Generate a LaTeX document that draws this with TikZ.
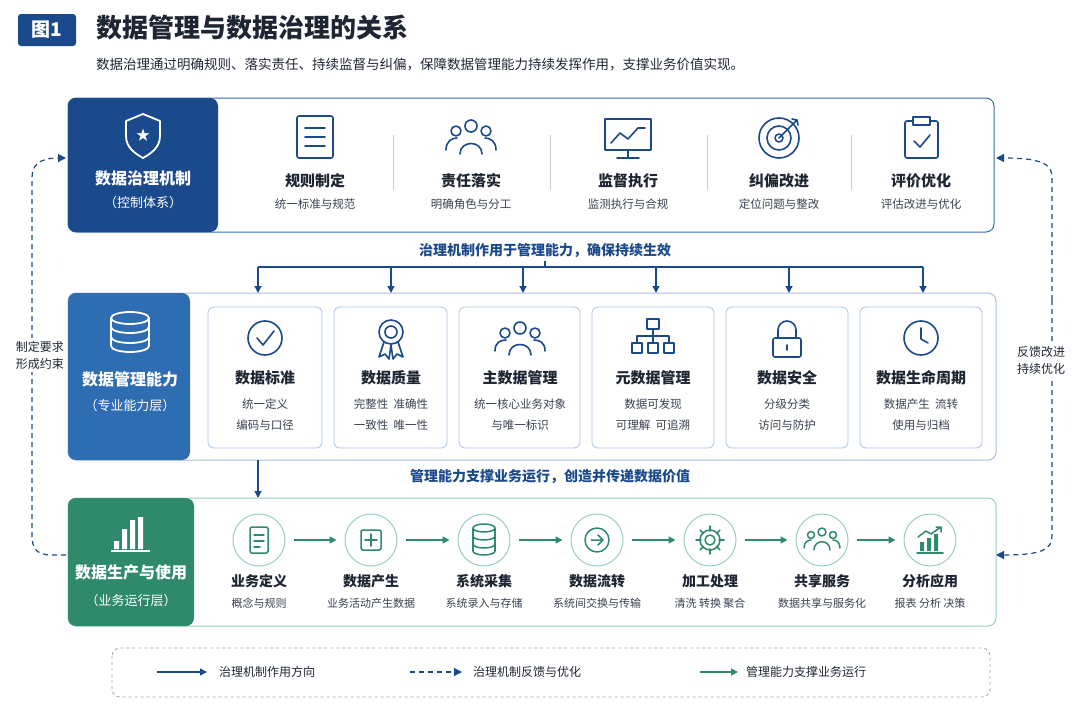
\documentclass[tikz,border=0pt]{standalone}
\usepackage{fontspec}
\setmainfont{Noto Sans CJK SC}
\usetikzlibrary{arrows.meta,calc}
\definecolor{dblue}{HTML}{1B4A8C}
\definecolor{mblue}{HTML}{2F6DB3}
\definecolor{gr}{HTML}{2E8A6B}
\definecolor{txt}{HTML}{1F2633}
\definecolor{sub}{HTML}{3A4250}
\definecolor{lb}{HTML}{A9C1E0}
\definecolor{lg}{HTML}{9CCFBE}
\tikzset{
 every node/.style={inner sep=0pt,font=\fontsize{11.5}{13}\selectfont,text=sub},
 ttl/.style={font=\fontsize{15}{17}\selectfont\bfseries,text=txt},
 lt/.style={font=\fontsize{16}{18}\selectfont\bfseries,text=white},
 ls/.style={font=\fontsize{13}{15}\selectfont,text=white},
 card/.style={draw=lb,rounded corners=6pt,line width=0.8pt,fill=white},
 ico/.style={line width=1.6pt,draw=dblue,line cap=round,line join=round},
 arr/.style={draw=dblue,line width=1.2pt,-{Triangle[length=7pt,width=7pt]}},
 darr/.style={draw=dblue,line width=1.2pt,dashed,dash pattern=on 5pt off 4pt,-{Triangle[length=8pt,width=8pt]}},
 garr/.style={draw=gr,line width=1.6pt,-{Triangle[length=7pt,width=7pt]}},
}
\begin{document}
\begin{tikzpicture}[x=1pt,y=-1pt]
\useasboundingbox (0,0) rectangle (1080,720);
% header
\node[fill=dblue,rounded corners=3pt,minimum width=58pt,minimum height=32pt,font=\fontsize{19}{21}\selectfont\bfseries,text=white] (badge) at (47,30) {图1};
\node[anchor=west,font=\fontsize{26}{28}\selectfont\bfseries,text=txt] (title) at (96,28) {数据管理与数据治理的关系};
\node[anchor=west,font=\fontsize{13.5}{15}\selectfont,text=txt] (subt) at (96,65) {数据治理通过明确规则、落实责任、持续监督与纠偏，保障数据管理能力持续发挥作用，支撑业务价值实现。};
% ===== panel 1
\draw[draw=mblue,line width=1pt,rounded corners=8pt,fill=white] (68,98) rectangle (994,232);
\path[fill=dblue,rounded corners=8pt] (68,98) -- (218,98) -- (218,232) -- (68,232) -- cycle;
\node[lt] (p1t) at (143,178) {数据治理机制};
\node[ls] (p1s) at (143,203) {（控制体系）};
\draw[white,line width=1.8pt,line join=round] (126,121) -- (143,114) -- (160,121) -- (160,136) .. controls (160,148) and (150,154) .. (143,158) .. controls (136,154) and (126,148) .. (126,136) -- cycle;
\node[text=white,font=\fontsize{14}{14}\selectfont] (star) at (143,135) {★};
\foreach \x/\a/\b/\n in {315/规则制定/统一标准与规范/a,471/责任落实/明确角色与分工/b,628/监督执行/监测执行与合规/c,779/纠偏改进/定位问题与整改/d,921/评价优化/评估改进与优化/e}{
 \node[ttl] (g\n) at (\x,181) {\a};
 \node (gs\n) at (\x,204) {\b};
}
\foreach \x in {393,550,707,851} \draw[gray!40,line width=0.8pt] (\x,135) -- (\x,190);
% icons p1
\draw[ico,rounded corners=2pt] (297,116) rectangle (333,158);
\foreach \y in {128,137,146} \draw[ico] (305,\y) -- (325,\y);
\begin{scope}[ico]
 \draw (471,126) circle (6);\draw (456,131) circle (5);\draw (486,131) circle (5);
 \draw (460,154) .. controls (460,140) and (482,140) .. (482,154);
 \draw (446,150) .. controls (446,141) and (452,138) .. (457,138);
 \draw (496,150) .. controls (496,141) and (490,138) .. (485,138);
\end{scope}
\draw[ico] (605,119) rectangle (651,150); \draw[ico] (628,150) -- (628,157) (617,158) -- (639,158);
\draw[ico] (611,143) -- (620,133) -- (628,139) -- (638,128) -- (645,128);
\begin{scope}[ico]
 \draw (779,138) circle (20);\draw (779,138) circle (12);\draw (779,138) circle (4);
 \draw (779,138) -- (797,120) (792,119) -- (797,120) -- (798,125);
\end{scope}
\draw[ico,rounded corners=2pt] (905,121) rectangle (938,158);
\draw[ico,fill=white] (913,117) rectangle (930,125);
\draw[ico] (914,141) -- (920,147) -- (930,135);
% connector text
\node[font=\fontsize{14}{16}\selectfont\bfseries,text=dblue] (mid1) at (545,251) {治理机制作用于管理能力，确保持续生效};
\coordinate (bus) at (545,267);
\draw[dblue,line width=1.2pt] (545,261) -- (bus);
\draw[dblue,line width=1.2pt] (258,267) -- (923,267);
% ===== panel 2
\draw[draw=lb,line width=1pt,rounded corners=8pt,fill=white] (68,293) rectangle (996,460);
\path[fill=mblue,rounded corners=8pt] (68,293) -- (190,293) -- (190,460) -- (68,460) -- cycle;
\node[lt] (p2t) at (130,379) {数据管理能力};
\node[ls] (p2s) at (130,406) {（专业能力层）};
\begin{scope}[white,line width=1.8pt]
 \draw (111,318) -- (111,346) (149,318) -- (149,346);
 \draw (130,318) ellipse (19 and 6);
 \draw (111,327) arc (180:0:19 and 6);\draw (111,337) arc (180:0:19 and 6);\draw (111,346) arc (180:0:19 and 6);
\end{scope}
\foreach \l/\r/\c/\n in {208/322/265/a,334/447/391/b,459/580/520/c,592/714/653/d,726/848/787/e,860/982/921/f}{
 \draw[card] (\l,307) rectangle (\r,448);
 \coordinate (top\n) at (\c,307);
}
\foreach \x/\n in {258/a,391/b,523/c,656/d,789/e,923/f} \draw[arr] (\x,267) -- (\x,293);
\foreach \x/\a/\b/\c/\n in {265/数据标准/统一定义/编码与口径/a,391/数据质量/完整性\ \ 准确性/一致性\ \ 唯一性/b,520/主数据管理/统一核心业务对象/与唯一标识/c,653/元数据管理/数据可发现/可理解\ \ 可追溯/d,787/数据安全/分级分类/访问与防护/e,921/数据生命周期/数据产生\ \ 流转/使用与归档/f}{
 \node[ttl] (m\n) at (\x,378) {\a};
 \node (ma\n) at (\x,404) {\b};
 \node (mb\n) at (\x,425) {\c};
}
% icons p2
\draw[ico] (265,338) circle (17); \draw[ico] (257,338) -- (263,345) -- (274,331);
\begin{scope}[ico]
 \draw (391,332) circle (12);\draw (391,332) circle (6);
 \draw (384,342) -- (379,357) -- (385,354) -- (389,359) -- (391,345);
 \draw (398,342) -- (403,357) -- (397,354) -- (393,359) -- (391,345);
\end{scope}
\begin{scope}[ico]
 \draw (520,328) circle (6);\draw (505,333) circle (5);\draw (535,333) circle (5);
 \draw (509,355) .. controls (509,341) and (531,341) .. (531,355);
 \draw (495,351) .. controls (495,342) and (501,340) .. (506,340);
 \draw (545,351) .. controls (545,342) and (539,340) .. (534,340);
\end{scope}
\begin{scope}[ico,line width=1.4pt]
 \draw (647,319) rectangle (659,329);
 \draw (653,329) -- (653,336) (637,343) -- (637,336) -- (669,336) -- (669,343) (653,336) -- (653,343);
 \draw (632,343) rectangle (642,353);\draw (648,343) rectangle (658,353);\draw (664,343) rectangle (674,353);
\end{scope}
\draw[ico] (778,338) -- (778,330) arc (180:360:9) -- (796,338);
\draw[ico,rounded corners=2pt] (773,338) rectangle (801,357);
\draw[ico] (787,345) -- (787,350);
\draw[ico] (921,338) circle (17); \draw[ico] (921,328) -- (921,339) -- (928,343);
% connector 2
\node[font=\fontsize{14}{16}\selectfont\bfseries,text=dblue] (mid2) at (550,477) {管理能力支撑业务运行，创造并传递数据价值};
\coordinate (p2b) at (258,460);
\draw[arr] (p2b) -- (258,498);
% ===== panel 3
\draw[draw=lg,line width=1pt,rounded corners=8pt,fill=white] (68,498) rectangle (996,626);
\path[fill=gr,rounded corners=8pt] (68,498) -- (194,498) -- (194,626) -- (68,626) -- cycle;
\node[lt] (p3t) at (131,572) {数据生产与使用};
\node[ls] (p3s) at (131,601) {（业务运行层）};
\fill[white] (114,541) rectangle (119,549) (122,529) rectangle (127,549) (130,520) rectangle (135,549) (138,517) rectangle (143,549);
\draw[white,line width=1.5pt] (111,551) -- (150,551);
\foreach \x/\a/\b/\n in {259/业务定义/概念与规则/1,371/数据产生/业务活动产生数据/2,484/系统采集/系统录入与存储/3,597/数据流转/系统间交换与传输/4,710/加工处理/清洗\ 转换\ 聚合/5,822/共享服务/数据共享与服务化/6,930/分析应用/报表\ 分析\ 决策/7}{
 \node[circle,draw=lg,line width=1pt,fill=white,minimum size=52pt] (c\n) at (\x,540) {};
 \node[ttl,font=\fontsize{14}{16}\selectfont\bfseries] (s\n) at (\x,581) {\a};
 \node[font=\fontsize{11}{12}\selectfont] (ss\n) at (\x,603) {\b};
}
\foreach \i/\j in {1/2,2/3,3/4,4/5,5/6,6/7} \draw[garr] ($(c\i.east)+(8,0)$) -- ($(c\j.west)+(-8,0)$);
\tikzset{gi/.style={line width=1.5pt,draw=gr,line cap=round,line join=round}}
\draw[gi,rounded corners=1.5pt] (250,527) rectangle (268,553); \draw[gi] (254,535) -- (264,535) (254,541) -- (264,541) (254,547) -- (260,547);
\draw[gi,rounded corners=1.5pt] (361,530) rectangle (381,550); \draw[gi] (371,534) -- (371,546) (365,540) -- (377,540);
\draw[gi] (484,528) ellipse (11 and 4); \draw[gi] (473,528) -- (473,551) (495,528) -- (495,551);
\draw[gi] (473,536) arc (180:0:11 and 4) (473,544) arc (180:0:11 and 4) (473,551) arc (180:0:11 and 4);
\draw[gi] (597,540) circle (12); \draw[gi] (591,540) -- (603,540) (598,535) -- (603,540) -- (598,545);
\draw[gi] (710,540) circle (5);
\foreach \a in {0,45,...,315} \draw[gi] ($(710,540)+(\a:9)$) -- ($(710,540)+(\a:14)$);
\draw[gi] (710,540) circle (10);
\begin{scope}[gi]
 \draw (822,532) circle (4);\draw (811,535) circle (3.5);\draw (833,535) circle (3.5);
 \draw (814,550) .. controls (814,539) and (830,539) .. (830,550);
 \draw (804,548) .. controls (804,542) and (808,540) .. (811,540);
 \draw (840,548) .. controls (840,542) and (836,540) .. (833,540);
\end{scope}
\fill[gr] (920,542) rectangle (924,551) (927,538) rectangle (931,551) (934,534) rectangle (938,551);
\draw[gi] (917,553) -- (943,553);
\draw[gi] (918,537) -- (926,531) -- (931,534) -- (941,527) (936,527) -- (941,527) -- (941,532);
% side feedback
\coordinate (l1) at (66,158); \coordinate (l3) at (66,555);
\draw[darr] (l3) -- (52,555) .. controls (36,555) and (32,548) .. (32,535) -- (32,178) .. controls (32,166) and (38,158) .. (l1);
\node[fill=white,inner sep=3pt,align=center,font=\fontsize{12}{17}\selectfont,text=txt] (ll) at (40,355) {制定要求\\形成约束};
\coordinate (r1) at (996,158); \coordinate (r3) at (996,555);
\draw[darr] (1052,300) -- (1052,178) .. controls (1052,166) and (1046,158) .. (r1);
\draw[darr] (1052,300) -- (1052,535) .. controls (1052,548) and (1046,555) .. (r3);
\node[fill=white,inner sep=3pt,align=center,font=\fontsize{12}{17}\selectfont,text=txt] (rl) at (1041,360) {反馈改进\\持续优化};
% legend
\draw[gray!70,dashed,line width=0.8pt,rounded corners=8pt] (112,648) rectangle (990,697);
\coordinate (la) at (157,672); \coordinate (lae) at (207,672);
\draw[arr] (la) -- (lae);
\node[anchor=west,font=\fontsize{12}{14}\selectfont,text=txt] (lt1) at (219,672) {治理机制作用方向};
\coordinate (lb) at (410,672); \coordinate (lbe) at (462,672);
\draw[darr] (lb) -- (lbe);
\node[anchor=west,font=\fontsize{12}{14}\selectfont,text=txt] (lt2) at (473,672) {治理机制反馈与优化};
\coordinate (lc) at (700,672); \coordinate (lce) at (738,672);
\draw[garr,line width=1.2pt] (lc) -- (lce);
\node[anchor=west,font=\fontsize{12}{14}\selectfont,text=txt] (lt3) at (746,672) {管理能力支撑业务运行};
\end{tikzpicture}
\end{document}
